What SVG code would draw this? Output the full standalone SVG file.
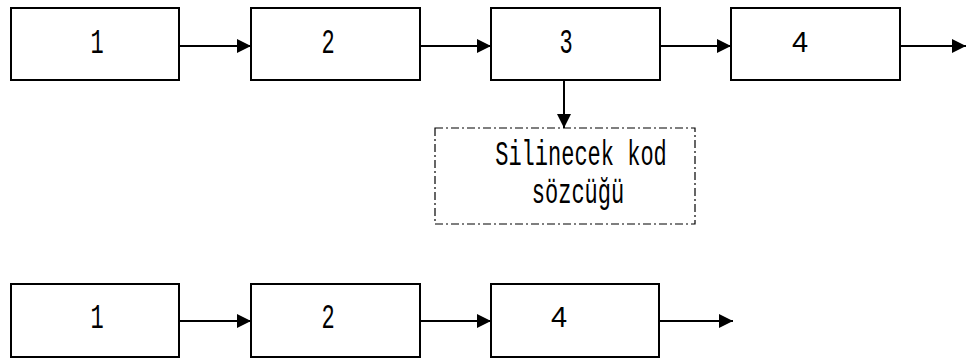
<svg xmlns="http://www.w3.org/2000/svg" width="967" height="358" viewBox="0 0 967 358">
<style>
.box{fill:#fff;stroke:#000;stroke-width:2}
.dbox{fill:#fff;stroke:#000;stroke-width:1.2;stroke-dasharray:8 3 2 3}
.ln{stroke:#000;stroke-width:2;fill:none}
.m{font-family:"Liberation Mono","Courier New",monospace;font-size:22px;fill:#000;text-anchor:middle}
.s{font-family:"Liberation Sans",Arial,sans-serif;font-size:29px;fill:#000;text-anchor:middle}
</style>
<defs>
<marker id="ah" viewBox="0 0 10 10" refX="10" refY="5" markerWidth="16" markerHeight="14" markerUnits="userSpaceOnUse" orient="auto">
<path d="M0,0 L10,5 L0,10 z" fill="#000"/>
</marker>
</defs>
<g id="connectors">
<line class="ln" x1="179" y1="46" x2="251" y2="46" marker-end="url(#ah)"/>
<line class="ln" x1="420" y1="46" x2="491" y2="46" marker-end="url(#ah)"/>
<line class="ln" x1="660" y1="46" x2="731" y2="46" marker-end="url(#ah)"/>
<line class="ln" x1="900" y1="46" x2="966" y2="46" marker-end="url(#ah)"/>
<line class="ln" x1="564" y1="80" x2="564" y2="128" marker-end="url(#ah)"/>
<line class="ln" x1="179" y1="321" x2="251" y2="321" marker-end="url(#ah)"/>
<line class="ln" x1="420" y1="321" x2="491" y2="321" marker-end="url(#ah)"/>
<line class="ln" x1="659" y1="321" x2="733" y2="321" marker-end="url(#ah)"/>
</g>
<g id="t1"><rect class="box" x="11" y="8" width="168" height="72"/><text class="m" transform="translate(97,53) scale(1,1.6)">1</text></g>
<g id="t2"><rect class="box" x="251" y="8" width="169" height="72"/><text class="m" transform="translate(328,53) scale(1,1.6)">2</text></g>
<g id="t3"><rect class="box" x="491" y="8" width="169" height="72"/><text class="m" transform="translate(566,53) scale(1,1.6)">3</text></g>
<g id="t4"><rect class="box" x="731" y="8" width="169" height="72"/><text class="s" x="800" y="52">4</text></g>
<g id="del"><rect class="dbox" x="435" y="128" width="260" height="96"/>
<text class="m" transform="translate(581,165) scale(1,1.6)">Silinecek kod</text>
<text class="m" transform="translate(578,203) scale(1,1.6)">sözcüğü</text></g>
<g id="b1"><rect class="box" x="11" y="284" width="168" height="73"/><text class="m" transform="translate(97,328) scale(1,1.6)">1</text></g>
<g id="b2"><rect class="box" x="251" y="284" width="169" height="73"/><text class="m" transform="translate(328,328) scale(1,1.6)">2</text></g>
<g id="b4"><rect class="box" x="491" y="284" width="168" height="73"/><text class="s" x="559" y="327">4</text></g>
</svg>
